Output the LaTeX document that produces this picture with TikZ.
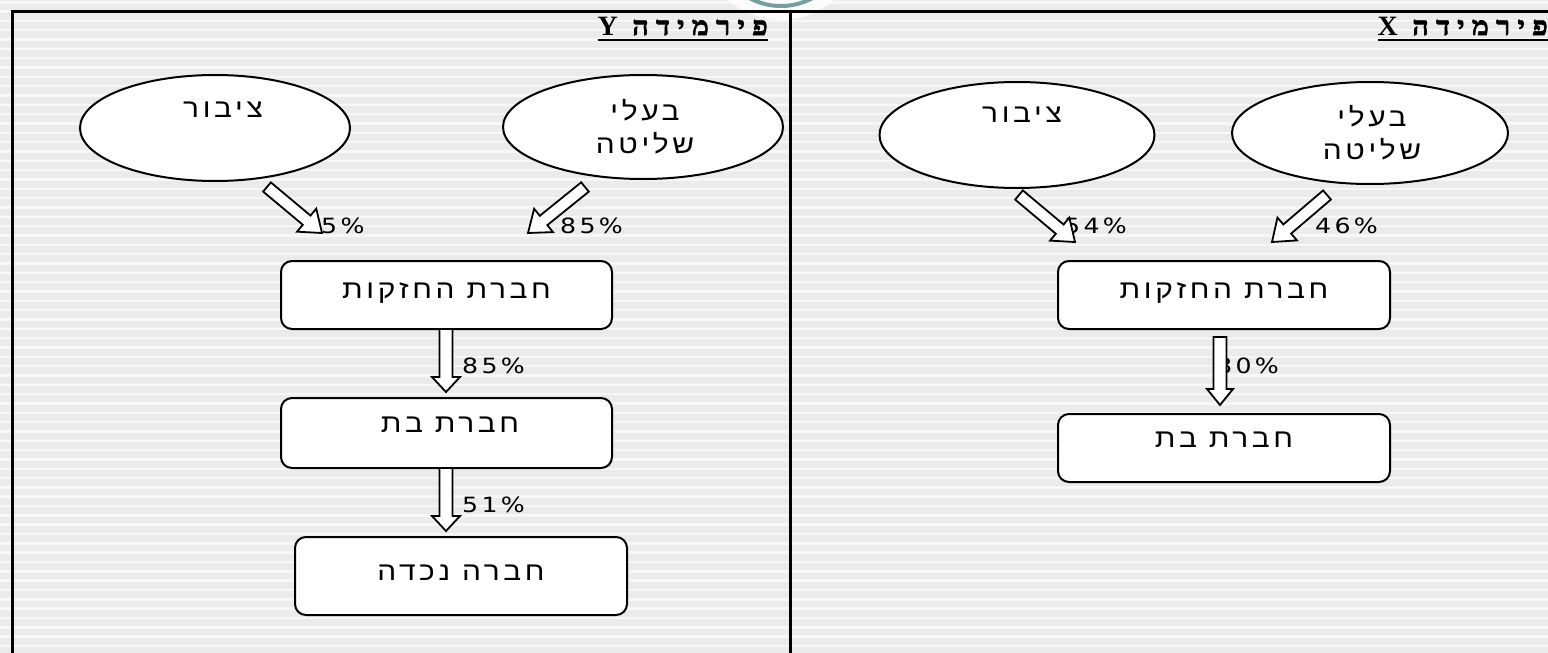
\documentclass[tikz,border=0pt]{standalone}
\usepackage{fontspec}
\usetikzlibrary{calc,shapes.geometric}
\TeXXeTstate=1
\newfontfamily\heb[Script=Hebrew,LetterSpace=14,FakeStretch=1.15]{Liberation Sans}
\newfontfamily\hebhead[Script=Hebrew,LetterSpace=28,FakeStretch=1.1,BoldFeatures={FakeBold=2.5}]{Liberation Serif}
\newfontfamily\pct[LetterSpace=16,FakeStretch=1.2]{DejaVu Sans}
\newfontfamily\lat{Liberation Serif}
\definecolor{bgc}{HTML}{EBEBEB}
\definecolor{stripec}{HTML}{F7F7F7}
\definecolor{ringc}{HTML}{769E9C}
\tikzset{
  frame/.style={line width=3pt, black},
  ell/.style={ellipse, draw, line width=2pt, fill=white, inner sep=0pt},
  box/.style={rectangle, draw, line width=2pt, fill=white, rounded corners=11pt, inner sep=0pt},
  txt/.style={font=\heb\fontsize{26}{30}\selectfont, inner sep=0pt, anchor=base},
  pcttxt/.style={font=\pct\fontsize{21}{24}\selectfont, inner sep=0pt, anchor=base},
  headtxt/.style={font=\hebhead\bfseries\fontsize{26}{30}\selectfont, inner sep=0pt, anchor=base east},
  barrow/.style={draw=black, fill=white, line width=1.8pt, line join=miter},
}
% block arrow: #1 tail, #2 tip, #3 half shaft width, #4 head length, #5 half head width
\newcommand\blockarr[5]{%
  \draw[barrow] ($(#1)!#3!90:(#2)$) -- ($($(#2)!#4!(#1)$)!#3!90:(#2)$)
    -- ($($(#2)!#4!(#1)$)!#5!90:(#2)$) -- (#2)
    -- ($($(#2)!#4!(#1)$)!#5!-90:(#2)$) -- ($($(#2)!#4!(#1)$)!#3!-90:(#2)$)
    -- ($(#1)!#3!-90:(#2)$) -- cycle;}
\begin{document}
\begin{tikzpicture}[x=1pt,y=-1pt]
\useasboundingbox (0,0) rectangle (1548,653);
% background
\fill[bgc] (0,0) rectangle (1548,653);
\foreach \i in {0,...,70} {
  \fill[stripec] (0,{\i*9.33+1}) rectangle (1548,{\i*9.33+3.5});
}
% glow and ring at top
\fill[white, opacity=0.8] (781,-60) circle (80);
\draw[ringc, line width=4pt] (781,-60) circle (66);
% frame
\draw[frame] (12,653) -- (12,11) -- (1548,11);
\draw[frame] (790,11) -- (790,653);

% ===== Panel Y (left) =====
\node[headtxt] (hdY) at (768,35) {\beginR פירמידה \beginL{\lat\bfseries\fontsize{28}{30}\selectfont Y}\endL\endR};
\draw[line width=1.6pt] ([yshift=-5pt]hdY.base west) -- ([yshift=-5pt]hdY.base east);

\node[ell, minimum width=270pt, minimum height=106pt] (pubY) at (215,128) {};
\node[txt] (pubYt) at (223,117) {\beginR ציבור\endR};
\node[ell, minimum width=280pt, minimum height=104pt] (ctlY) at (643,127) {};
\node[txt] (ctlYa) at (645,120) {\beginR בעלי\endR};
\node[txt] (ctlYb) at (645,153) {\beginR שליטה\endR};

\node[pcttxt, anchor=base west] (pYl) at (321,233) {5\%};
\node[pcttxt, anchor=base west] (pYr) at (560,233) {85\%};
\coordinate (aYlt) at (267,187);
\coordinate (aYlh) at (322,233);
\coordinate (aYrt) at (585,187);
\coordinate (aYrh) at (528,233);
\blockarr{aYlt}{aYlh}{6pt}{20pt}{15pt}
\blockarr{aYrt}{aYrh}{6pt}{20pt}{15pt}

\node[box, minimum width=331pt, minimum height=68pt] (holdY) at (446.5,295) {};
\node[txt] (holdYt) at (446.5,298) {\beginR חברת החזקות\endR};
\node[box, minimum width=331pt, minimum height=70pt] (subY) at (446.5,433) {};
\node[txt] (subYt) at (450,432) {\beginR חברת בת\endR};
\node[box, minimum width=332pt, minimum height=78pt] (grY) at (461,576) {};
\node[txt] (grYt) at (461,580) {\beginR חברה נכדה\endR};

\node[pcttxt, anchor=base west] (pY2) at (462,373) {85\%};
\node[pcttxt, anchor=base west] (pY3) at (462,512) {51\%};
\coordinate (dY1t) at (446,329);
\coordinate (dY1h) at (446,392);
\coordinate (dY2t) at (446,468);
\coordinate (dY2h) at (446,531);
\blockarr{dY1t}{dY1h}{6.5pt}{15pt}{14pt}
\blockarr{dY2t}{dY2h}{6.5pt}{15pt}{14pt}

% ===== Panel X (right) =====
\node[headtxt] (hdX) at (1548,35) {\beginR פירמידה \beginL{\lat\bfseries\fontsize{28}{30}\selectfont X}\endL\endR};
\draw[line width=1.6pt] ([yshift=-5pt]hdX.base west) -- ([yshift=-5pt]hdX.base east);

\node[ell, minimum width=275pt, minimum height=106pt] (pubX) at (1017,135) {};
\node[txt] (pubXt) at (1022,122) {\beginR ציבור\endR};
\node[ell, minimum width=276pt, minimum height=102pt] (ctlX) at (1370,133) {};
\node[txt] (ctlXa) at (1372,126) {\beginR בעלי\endR};
\node[txt] (ctlXb) at (1372,159) {\beginR שליטה\endR};

\node[pcttxt, anchor=base west] (pXl) at (1064,233) {54\%};
\node[pcttxt, anchor=base west] (pXr) at (1315,233) {46\%};
\coordinate (aXlt) at (1019,195);
\coordinate (aXlh) at (1075,242);
\coordinate (aXrt) at (1327,195);
\coordinate (aXrh) at (1272,242);
\blockarr{aXlt}{aXlh}{6pt}{20pt}{15pt}
\blockarr{aXrt}{aXrh}{6pt}{20pt}{15pt}

\node[box, minimum width=332pt, minimum height=68pt] (holdX) at (1224,295) {};
\node[txt] (holdXt) at (1224,298) {\beginR חברת החזקות\endR};
\node[box, minimum width=332pt, minimum height=68pt] (subX) at (1224,448) {};
\node[txt] (subXt) at (1224,447) {\beginR חברת בת\endR};

\node[pcttxt, anchor=base west] (pX2) at (1216,373) {80\%};
\coordinate (dX1t) at (1220,337);
\coordinate (dX1h) at (1220,405);
\blockarr{dX1t}{dX1h}{6.5pt}{16pt}{13pt}
\end{tikzpicture}
\end{document}
